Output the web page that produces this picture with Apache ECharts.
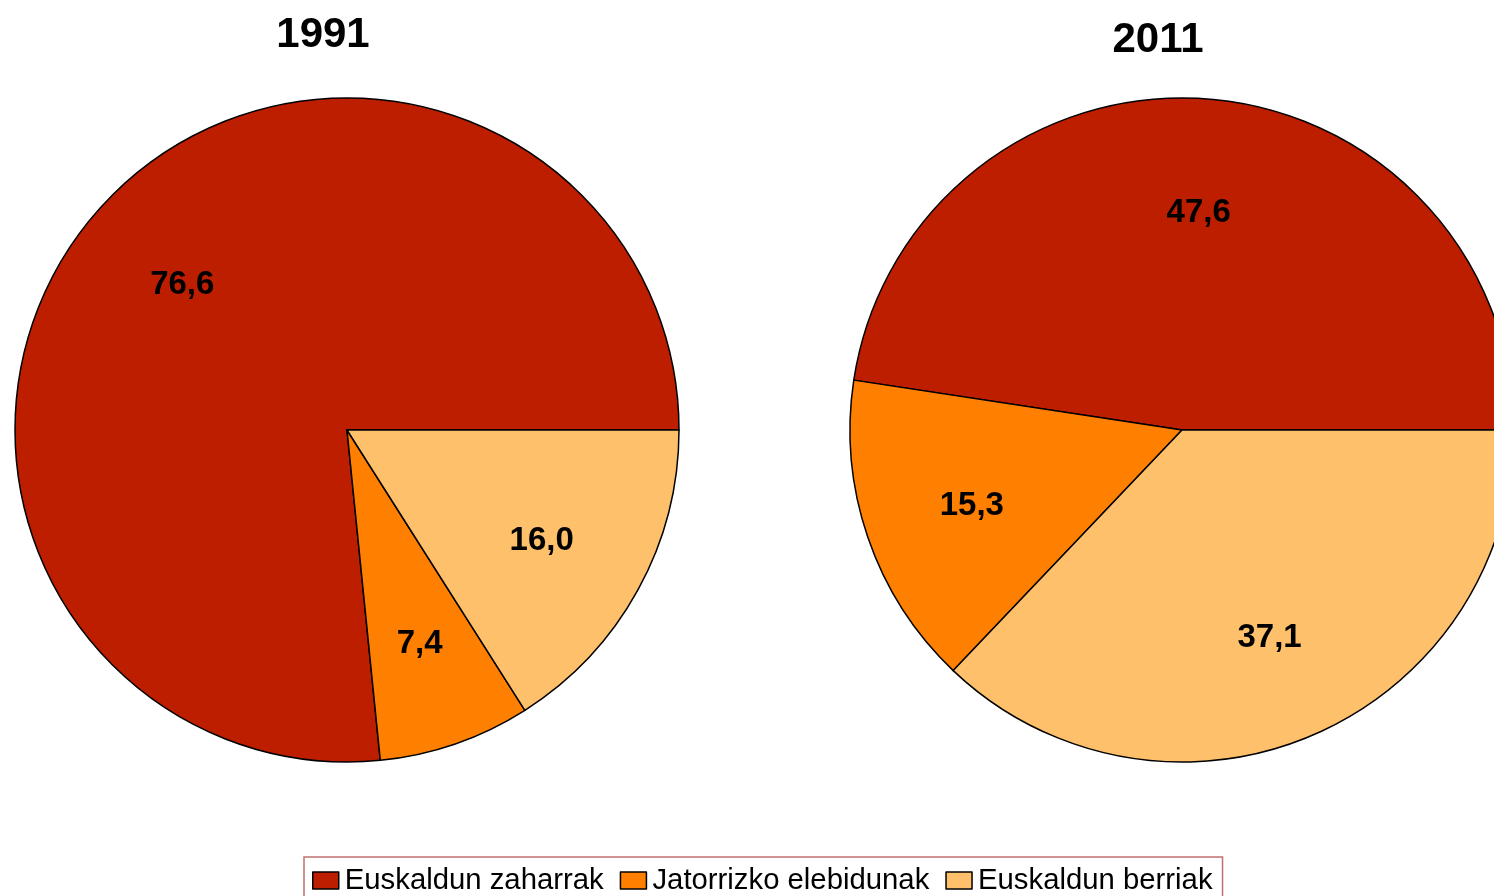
<!DOCTYPE html>
<html>
<head>
<meta charset="utf-8">
<script src="https://cdn.jsdelivr.net/npm/echarts@6/dist/echarts.min.js"></script>
<style>
html,body{margin:0;padding:0;background:#fff;}
#chart{width:1494px;height:896px;}
</style>
</head>
<body>
<div id="chart"></div>
<script>
const categories = ['Euskaldun zaharrak', 'Jatorrizko elebidunak', 'Euskaldun berriak'];
const years = ['1991', '2011'];
const values1991 = [76.6, 7.4, 16.0];
const values2011 = [47.6, 15.3, 37.1];
const colors = ['#BD1E00', '#FF8000', '#FFC06C'];

const FONT = '"Liberation Sans", Arial, sans-serif';
const centers = [[347, 430], [1182, 430]];
const R = 332;
const allValues = [values1991, values2011];

function fmt(v) { return v.toFixed(1).replace('.', ','); }

const series = [];
allValues.forEach((vals, i) => {
  series.push({
    type: 'pie',
    name: years[i],
    center: centers[i],
    radius: [0, R],
    startAngle: 0,
    clockwise: false,
    animation: false,
    silent: true,
    label: { show: false },
    labelLine: { show: false },
    itemStyle: { borderColor: '#000', borderWidth: 1.5 },
    emphasis: { disabled: true },
    data: categories.map((c, k) => ({ name: c, value: vals[k], itemStyle: { color: colors[k] } }))
  });
});
allValues.forEach((vals, i) => {
  series.push({
    type: 'pie',
    name: years[i] + ' labels',
    center: centers[i],
    radius: [0, R * 1.32],
    startAngle: 0,
    clockwise: false,
    animation: false,
    silent: true,
    avoidLabelOverlap: false,
    z: 5,
    itemStyle: { color: 'transparent', borderWidth: 0 },
    emphasis: { disabled: true },
    labelLine: { show: false },
    label: {
      show: true,
      position: 'inside',
      formatter: p => fmt(p.value),
      color: '#000',
      fontFamily: FONT,
      fontWeight: 'bold',
      fontSize: 33,
      offset: [0, 4]
    },
    data: categories.map((c, k) => ({ name: c, value: vals[k] }))
  });
});

const option = {
  backgroundColor: '#fff',
  title: [
    { text: years[0], left: 323, top: 14, textAlign: 'center', padding: 0,
      textStyle: { fontFamily: FONT, fontWeight: 'bold', fontSize: 42, color: '#000' } },
    { text: years[1], left: 1158, top: 19, textAlign: 'center', padding: 0,
      textStyle: { fontFamily: FONT, fontWeight: 'bold', fontSize: 42, color: '#000' } }
  ],
  legend: {
    data: categories,
    left: 304,
    top: 857,
    orient: 'horizontal',
    padding: [9, 10, 12, 8],
    itemGap: 16,
    itemWidth: 26,
    itemHeight: 17,
    borderColor: '#C07070',
    borderWidth: 1.5,
    icon: 'rect',
    selectedMode: false,
    itemStyle: { borderColor: '#000', borderWidth: 1.5 },
    textStyle: { fontFamily: FONT, fontSize: 29.3, color: '#000', padding: [0, 0, 0, 1] }
  },
  series: series
};

const chart = echarts.init(document.getElementById('chart'), null, { renderer: 'canvas' });
chart.setOption(option);
</script>
</body>
</html>
